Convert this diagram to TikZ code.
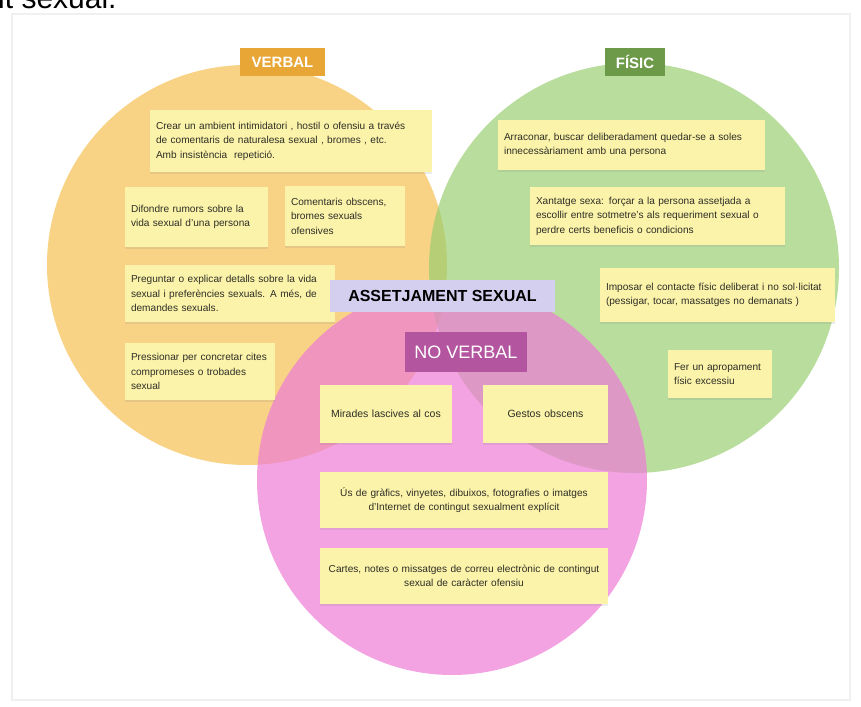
\documentclass[tikz,border=0pt]{standalone}
\usepackage{fontspec}
\setmainfont{Liberation Sans}
\usetikzlibrary{shadows}

\definecolor{verbalcol}{HTML}{F8D386}
\definecolor{fisiccol}{HTML}{9BCE72}
\definecolor{nvcol}{HTML}{EE7CD6}
\definecolor{notecol}{HTML}{FBF3AA}
\definecolor{notetext}{HTML}{2E2E26}
\definecolor{verbaltag}{HTML}{E8A636}
\definecolor{fisictag}{HTML}{6C9A48}
\definecolor{mainTag}{HTML}{D5CFEF}
\definecolor{nvtag}{HTML}{B3559F}

\begin{document}
\begin{tikzpicture}[x=1pt,y=-1pt,
  note/.style={fill=notecol, text=notetext, inner sep=6pt, align=left,
    drop shadow={opacity=0.15,shadow xshift=0pt,shadow yshift=-2pt},
    font=\fontsize{10.1}{14.5}\selectfont},
  tag/.style={inner sep=0pt, text=white, font=\bfseries\fontsize{15}{15}\selectfont}]
  \useasboundingbox (0,0) rectangle (861,706);
  \clip (0,0) rectangle (861,706);
  \node[anchor=base west, inner sep=0pt, font=\fontsize{30}{30}\selectfont] (head) at (-2,9) {it sexual.};
  \draw[gray!12, line width=2pt] (12,14) rectangle (850,700);
  % the three circles
  \fill[verbalcol] (247,265) circle (200);
  \fill[fisiccol, fill opacity=0.7] (634,268) circle (205);
  \fill[nvcol, fill opacity=0.7] (452,480) circle (195);
  % verbal
  \node[note, text width=270pt, minimum height=62pt] (v1) at (291,141)
    {Crear un ambient intimidatori , hostil o ofensiu a través\\de comentaris de naturalesa sexual , bromes , etc.\\Amb insistència\ \ repetició.};
  \node[note, text width=131pt, minimum height=60pt] (v2) at (196.5,217)
    {Difondre rumors sobre la\\vida sexual d'una persona\\[6pt]};
  \node[note, text width=108pt, minimum height=60pt] (v3) at (345,216)
    {Comentaris obscens,\\bromes sexuals\\ofensives};
  \node[note, text width=198pt, minimum height=57pt] (v4) at (230,293.5)
    {Preguntar o explicar detalls sobre la vida\\sexual i preferències sexuals. A més, de\\demandes sexuals.};
  \node[note, text width=138pt, minimum height=57pt] (v5) at (200,371.5)
    {Pressionar per concretar cites\\compromeses o trobades\\sexual};
  % fisic
  \node[note, text width=255pt, minimum height=50pt] (f1) at (631.5,145)
    {Arraconar, buscar deliberadament quedar-se a soles\\innecessàriament amb una persona};
  \node[note, text width=243pt, minimum height=58pt] (f2) at (657.5,216)
    {Xantatge sexa: forçar a la persona assetjada a\\escollir entre sotmetre's als requeriment sexual o\\perdre certs beneficis o condicions};
  \node[note, text width=223pt, minimum height=54pt] (f3) at (717.5,295)
    {Imposar el contacte físic deliberat i no sol·licitat\\(pessigar, tocar, massatges no demanats )};
  \node[note, text width=92pt, minimum height=48pt] (f4) at (720,374)
    {Fer un apropament\\físic excessiu\\[6pt]};
  % no verbal
  \node[note, align=center, text width=120pt, minimum height=58pt, font=\fontsize{10.5}{14}\selectfont] (n1) at (386,414)
    {Mirades lascives al cos};
  \node[note, align=center, text width=113pt, minimum height=58pt, font=\fontsize{10.5}{14}\selectfont] (n2) at (545.5,414)
    {Gestos obscens};
  \node[note, align=center, text width=276pt, minimum height=56pt] (n3) at (464,500)
    {Ús de gràfics, vinyetes, dibuixos, fotografies o imatges\\d'Internet de contingut sexualment explícit};
  \node[note, align=center, text width=276pt, minimum height=56pt] (n4) at (464,576)
    {Cartes, notes o missatges de correu electrònic de contingut\\sexual de caràcter ofensiu};
  % titles
  \node[tag, fill=verbaltag, minimum width=85pt, minimum height=28pt] (verbal) at (282.5,62) {VERBAL};
  \node[tag, fill=fisictag, minimum width=60pt, minimum height=28pt] (fisic) at (635,62) {FÍSIC};
  \node[tag, fill=mainTag, text=black, minimum width=225pt, minimum height=32pt,
    font=\bfseries\fontsize{16}{16}\selectfont] (main) at (442.5,296) {ASSETJAMENT SEXUAL};
  \node[tag, fill=nvtag, minimum width=122pt, minimum height=40pt,
    font=\fontsize{18}{18}\selectfont] (nv) at (466,352) {NO VERBAL};
\end{tikzpicture}
\end{document}
